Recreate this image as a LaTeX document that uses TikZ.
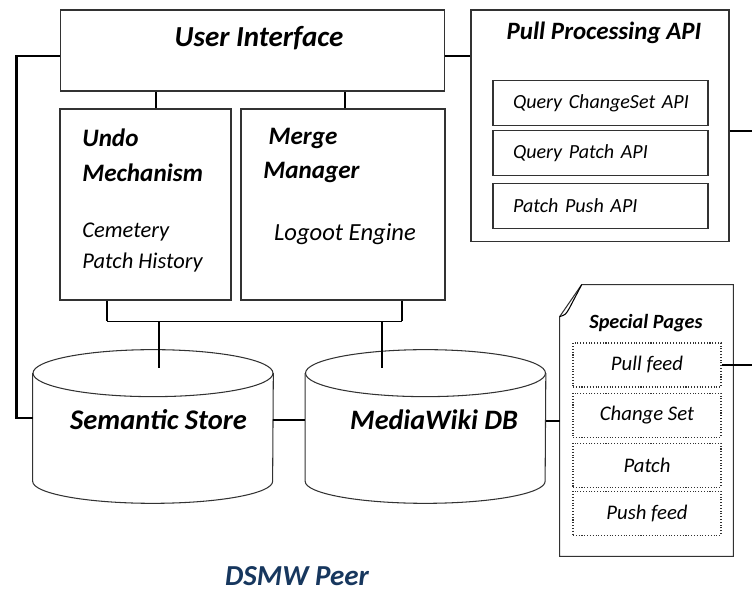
\documentclass[tikz,border=0pt]{standalone}
\usepackage{fontspec}
\setmainfont{Carlito}
\usepackage{tikz}
\usetikzlibrary{positioning, calc}
\definecolor{peerblue}{RGB}{23, 55, 94}
\definecolor{framegray}{RGB}{50, 50, 50}

\begin{document}
\begin{tikzpicture}[x=0.02cm, y=-0.02cm,
    box/.style={draw=framegray, line width=0.6pt},
    link/.style={line width=1.1pt},
    heavy/.style={line width=1.6pt},
    wire/.style={line width=0.6pt},
    api/.style={box, text width=3.9cm, inner xsep=0.2cm, minimum height=0.9cm, align=left,
      execute at begin node=\hspace*{0.2cm},
      font=\fontsize{11.4}{13}\selectfont\itshape},
    feed/.style={draw=framegray, densely dotted, line width=0.6pt, minimum width=2.96cm,
      minimum height=0.88cm, font=\fontsize{11.8}{13}\selectfont\itshape},
    hd/.style={inner sep=0pt, font=\fontsize{14.3}{19.8}\selectfont\bfseries\itshape},
    bd/.style={inner sep=0pt, font=\fontsize{12.8}{17.6}\selectfont\itshape}]
  \useasboundingbox (0,0) rectangle (752,590);

  % upper blocks
  \node[box, minimum width=7.7cm, minimum height=1.62cm] (ui) at (252.5,50.5) {};
  \node[box, minimum width=3.42cm, minimum height=3.82cm] (undo) at (145.5,204.5) {};
  \node[box, minimum width=4.08cm, minimum height=3.82cm] (merge) at (343,204.5) {};
  \node[box, minimum width=5.16cm, minimum height=4.64cm] (pull) at (600,126) {};

  \node[font=\fontsize{16.5}{19}\selectfont\bfseries\itshape] (uit) at (259,38) {User Interface};
  \node[hd, anchor=west, align=left] (undot) at (82,155.5) {Undo\\Mechanism};
  \node[bd, anchor=west, align=left] (undob) at (82,247.5) {Cemetery\\Patch History};
  \node[hd, anchor=west, align=left] (merget) at (263,155.5) {\hspace{3pt}Merge\\Manager};
  \node[bd, font=\fontsize{14}{17}\selectfont\itshape] (mergeb) at (345,234) {Logoot Engine};

  \node[font=\fontsize{14.2}{16}\selectfont\bfseries\itshape] (pullt) at (604,33) {Pull Processing API};
  \node[api] (qcs) at (600.5,103) {Query ChangeSet API};
  \node[api, below=0.08cm of qcs] (qp) {Query Patch API};
  \node[api, below=0.14cm of qp] (pp) {Patch Push API};

  % special pages sheet
  \node[minimum width=3.46cm, minimum height=5.42cm] (sp) at (646.5,420.5) {};
  \draw[box] (sp.south west) -- ([yshift=-0.64cm]sp.north west) -- ([xshift=0.44cm]sp.north west)
    -- (sp.north east) -- (sp.south east) -- cycle;
  \draw[wire] ([xshift=0.44cm]sp.north west) -- ([xshift=0.2cm,yshift=-0.46cm]sp.north west)
    .. controls ([xshift=0.12cm,yshift=-0.6cm]sp.north west) .. ([yshift=-0.64cm]sp.north west);
  \node[font=\fontsize{11.5}{13}\selectfont\bfseries\itshape] (spt) at (646,323) {Special Pages};
  \node[feed] (f1) at (647,365) {Pull feed};
  \node[feed, below=0.1cm of f1] (f2) {Change Set};
  \node[feed, below=0.1cm of f2] (f3) {Patch};
  \node[feed, below=0.06cm of f3] (f4) {Push feed};

  % stores
  \node[minimum width=4.8cm, minimum height=3.06cm] (ss) at (153,426.5) {};
  \node[minimum width=4.8cm, minimum height=3.06cm] (mw) at (425.5,426.5) {};
  \foreach \db in {ss, mw} {
    \draw[box] ([yshift=-0.47cm]\db.north) ellipse[x radius=2.4cm, y radius=0.47cm];
    \draw[box] ([yshift=-0.47cm]\db.north west) -- ([yshift=0.44cm]\db.south west)
      arc[start angle=180, end angle=360, x radius=2.4cm, y radius=0.44cm]
      -- ([yshift=-0.47cm]\db.north east);
  }
  \node[font=\fontsize{16.2}{19}\selectfont\bfseries\itshape] (ssl) at (158.5,420) {Semantic Store};
  \node[font=\fontsize{16}{19}\selectfont\bfseries\itshape] (mwl) at (434,420) {MediaWiki DB};

  % connections
  \draw[heavy] ([yshift=-0.11cm]ui.west) -- ++(-43,0) |- ([yshift=0.17cm]ss.west);
  \draw[link] ([yshift=-0.11cm]ui.east) -- ([yshift=-0.11cm]ui.east -| pull.west);
  \draw[wire] ([yshift=-0.1cm]pull.east) -- ++(23,0);
  \draw[link] ([xshift=0.21cm]undo.north) -- ([xshift=0.21cm]undo.north |- ui.south);
  \draw[link] ([xshift=0.04cm]merge.north) -- ([xshift=0.04cm]merge.north |- ui.south);
  \coordinate (busl) at ([xshift=-0.77cm,yshift=-0.42cm]undo.south);
  \coordinate (busr) at ([xshift=1.18cm,yshift=-0.42cm]merge.south);
  \draw[wire] ([xshift=-0.77cm]undo.south) -- (busl);
  \draw[wire] ([xshift=1.18cm]merge.south) -- (busr);
  \draw[link] (busl) -- (busr);
  \draw[link] ([xshift=0.12cm]ss.north |- busl) -- ([xshift=0.12cm,yshift=-0.36cm]ss.north);
  \draw[link] ([xshift=-0.87cm]mw.north |- busl) -- ([xshift=-0.87cm,yshift=-0.36cm]mw.north);
  \draw[heavy] ([yshift=0.13cm]ss.east) -- ([yshift=0.13cm]mw.west);
  \draw[wire] ([yshift=0.11cm]mw.east) -- ([yshift=0.11cm]mw.east -| sp.west);
  \draw[wire] (f1.east) -- ++(32,0);

  \node[inner sep=0pt, font=\fontsize{16.5}{19}\selectfont\bfseries\itshape, text=peerblue] (peer) at (297,576) {DSMW Peer};
\end{tikzpicture}
\end{document}
